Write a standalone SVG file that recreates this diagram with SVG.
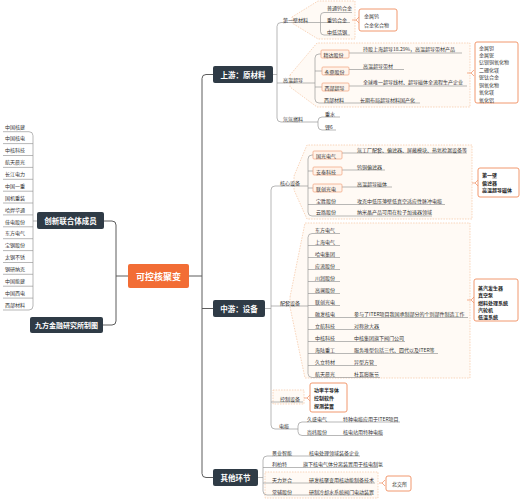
<svg xmlns="http://www.w3.org/2000/svg" width="520" height="500" viewBox="0 0 520 500">
<style>
.ln{fill:none;stroke:#9a9a9a;stroke-width:0.7}
.mln{fill:none;stroke:#5c5c5c;stroke-width:1}
.t{font-family:'Noto Sans CJK SC','Noto Sans',sans-serif;font-size:5px;fill:#333;dominant-baseline:central}
.sb{font-weight:bold;fill:#222}
.nt{font-family:'Noto Sans CJK SC','Noto Sans',sans-serif;font-size:7.5px;font-weight:bold;fill:#fff;text-anchor:middle;dominant-baseline:central}
.dk{fill:#2F3B46}
.bnd{fill:#FFFAF5;stroke:#F5C4A0;stroke-width:0.7;stroke-dasharray:1.5 1.2}
.sum{fill:#fff;stroke:#EF8D5F;stroke-width:0.9}
.ibox{fill:#FFF3EA;stroke:#F0A27C;stroke-width:0.7}
.br{fill:none;stroke:#EF8D5F;stroke-width:0.7}
</style>
<rect width="520" height="500" fill="#fff"/>
<g id="boundaries">
<polygon class="bnd" points="292,17 318,1 355,1 355,39 318,39 292,23"/>
<polygon class="bnd" points="290,75 317,43 470,43 470,107 317,107 290,87"/>
<polygon class="bnd" points="294,176 307,145 472,145 472,219 307,219 294,190"/>
<polygon class="bnd" points="290,297 305,223 470,223 470,378 305,378 290,307"/>
<rect class="bnd" x="273" y="390" width="31" height="14"/>
<rect class="bnd" x="265" y="472" width="113" height="26"/>
</g>
<g id="connectors">
<path class="ln" d="M3,131.7 H29 Q33,131.7 33,135.7 V306 Q33,310 29,310 H3 M3,143.6 H33 M3,155.5 H33 M3,167.4 H33 M3,179.3 H33 M3,191.2 H33 M3,203 H33 M3,214.9 H33 M3,226.8 H33 M3,238.7 H33 M3,250.6 H33 M3,262.5 H33 M3,274.3 H33 M3,286.2 H33 M3,298.1 H33 M33,221 H37"/>
<path class="mln" d="M104,221 H112 Q116,221 116,225 V321 Q116,325 112,325 H103 M116,276 H128"/>
<path class="mln" d="M189,276 H202 M213,74.5 H206 Q202,74.5 202,78.5 V473.5 Q202,477.5 206,477.5 H213 M202,308.5 H213"/>
<path class="ln" d="M273,74.5 H277 M320.5,22.5 H281 Q277,22.5 277,26.5 V118 Q277,122 281,122 H318 M277,83 H315"/>
<path class="ln" d="M352,12.5 H324 Q320.5,12.5 320.5,16 V31.5 Q320.5,35 324,35 H350 M320.5,22.5 H350"/>
<path class="ln" d="M321,54 H319 Q315,54 315,58 V99 Q315,103 319,103 H420 M315,71 H322 M315,87 H322 M349,53 H462 M349,69.5 H404 M349,86 H467"/>
<path class="ln" d="M340,117 H322 Q318,117 318,121 V126 Q318,130 322,130 H336"/>
<path class="ln" d="M265,308.5 H271 M308,186 H275 Q271,186 271,190 V425 Q271,429 275,429 H298 M271,306 H308 M271,402 H303"/>
<path class="ln" d="M313,155 H312 Q308,155 308,159 V212 Q308,216 312,216 H432 M308,171 H313 M308,188 H313 M308,204.5 H445 M342,153 H467 M342,170 H385 M342,187 H392"/>
<path class="ln" d="M340,233.5 H312 Q308,233.5 308,237.5 V373.5 Q308,377.5 312,377.5 H380 M308,245.5 H340 M308,257.5 H340 M308,269.5 H340 M308,281.5 H340 M308,293.5 H340 M308,305.5 H340 M308,317.5 H468 M308,329.5 H380 M308,341.5 H405 M308,353.5 H438 M308,365.5 H377"/>
<path class="ln" d="M400,422 H302 Q298,422 298,426 V431.5 Q298,435.5 302,435.5 H383"/>
<path class="ln" d="M258,477.5 H263 M360,456 H267 Q263,456 263,460 V491 Q263,495 267,495 H372 M263,467.5 H378 M263,483 H375"/>
<path class="br" d="M352,20 H356 M359,17 L356,20 L359,23"/>
<path class="br" d="M467,73 H471 M474,70 L471,73 L474,76"/>
<path class="br" d="M472,183 H475 M478,180 L475,183 L478,186"/>
<path class="br" d="M467,300 H471 M474,297 L471,300 L474,303"/>
<path class="br" d="M304,398 H307 M310,395 L307,398 L310,401"/>
<path class="br" d="M379,483 H382 M385,480 L382,483 L385,486"/>
</g>
<g id="members">
<text class="t" x="5" y="126">中国核建</text>
<text class="t" x="5" y="137.9">中国核电</text>
<text class="t" x="5" y="149.7">中核科技</text>
<text class="t" x="5" y="161.6">航天晨光</text>
<text class="t" x="5" y="173.5">长江电力</text>
<text class="t" x="5" y="185.4">中国一重</text>
<text class="t" x="5" y="197.2">国机重装</text>
<text class="t" x="5" y="209.1">哈焊华通</text>
<text class="t" x="5" y="221">佳电股份</text>
<text class="t" x="5" y="232.8">东方电气</text>
<text class="t" x="5" y="244.7">宝钢股份</text>
<text class="t" x="5" y="256.6">太钢不锈</text>
<text class="t" x="5" y="268.4">钢研纳克</text>
<text class="t" x="5" y="280.3">中国能建</text>
<text class="t" x="5" y="292.2">中国西电</text>
<text class="t" x="5" y="304">西部材料</text>
</g>
<g id="node-members"><rect class="dk" x="37" y="212" width="67" height="17" rx="2"/><text class="nt" x="70.5" y="220.5" font-size="7.3">创新联合体成员</text></g>
<g id="node-credit"><rect class="dk" x="30" y="317" width="73" height="16" rx="2"/><text class="nt" x="66.5" y="325" style="font-size:7px">九方金融研究所制图</text></g>
<g id="node-root"><rect x="128" y="264" width="61" height="24" rx="2" fill="#F26D35"/><text class="nt" x="158.5" y="276" style="font-size:9px">可控核聚变</text></g>
<g id="node-up"><rect class="dk" x="213" y="66" width="60" height="17" rx="2"/><text class="nt" x="243" y="74.5">上游：原材料</text></g>
<g id="node-mid"><rect class="dk" x="213" y="300" width="52" height="17" rx="2"/><text class="nt" x="239" y="308.5">中游：设备</text></g>
<g id="node-other"><rect class="dk" x="213" y="469" width="45" height="17" rx="2"/><text class="nt" x="235.5" y="477.5">其他环节</text></g>
<g id="upstream">
<text class="t" x="283" y="19">第一壁材料</text>
<text class="t" x="327" y="7.5">普通钨合金</text>
<text class="t" x="327" y="19">重钨合金</text>
<text class="t" x="327" y="31.5">中低活钢</text>
<rect class="sum" x="359" y="9" width="38" height="22" rx="2"/>
<text class="t" x="364" y="15.5">金属钨</text>
<text class="t" x="364" y="24">合金化合物</text>
<text class="t" x="283" y="79">高温超导</text>
<rect class="ibox" x="321" y="50" width="28" height="8" rx="1"/><text class="t" x="323.5" y="54">精达股份</text>
<rect class="ibox" x="322" y="67" width="27" height="8" rx="1"/><text class="t" x="324.5" y="71">永鼎股份</text>
<rect class="ibox" x="322" y="83" width="27" height="8" rx="1"/><text class="t" x="324.5" y="87">西部超导</text>
<text class="t" x="324" y="99">西部材料</text>
<text class="t" x="363" y="48.5">持股上海超导18.29%，高温超导带材产品</text>
<text class="t" x="363" y="65.5">高温超导带材</text>
<text class="t" x="363" y="81.7">全球唯一超导线材、超导磁体全流程生产企业</text>
<text class="t" x="360" y="99">长期布局超导材料国产化</text>
<rect class="sum" x="475" y="42" width="43" height="61" rx="2"/>
<text class="t" x="479" y="47">金属钽</text>
<text class="t" x="479" y="54.3">金属铌</text>
<text class="t" x="479" y="61.7">钇钡铜氧化物</text>
<text class="t" x="479" y="69">二硼化镁</text>
<text class="t" x="479" y="76.5">铌钛合金</text>
<text class="t" x="479" y="84">铜氧化物</text>
<text class="t" x="479" y="91.5">氧化镁</text>
<text class="t" x="479" y="99">氧化铝</text>
<text class="t" x="283" y="118">氘氚燃料</text>
<text class="t" x="325" y="113">重水</text>
<text class="t" x="325" y="126">锂6</text>
</g>
<g id="midstream">
<text class="t" x="280" y="182">核心设备</text>
<rect class="ibox" x="313" y="151" width="29" height="8" rx="1"/><text class="t" x="316" y="155">国光电气</text>
<rect class="ibox" x="313" y="167" width="29" height="8" rx="1"/><text class="t" x="316" y="171">安泰科技</text>
<rect class="ibox" x="313" y="184" width="29" height="8" rx="1"/><text class="t" x="316" y="188">联创光电</text>
<text class="t" x="316" y="200.5">宝胜股份</text>
<text class="t" x="316" y="211.7">云路股份</text>
<text class="t" x="357" y="149">氚工厂配套、偏滤器、屏蔽模块、热氦检漏设备等</text>
<text class="t" x="357" y="166">钨铜偏滤器</text>
<text class="t" x="357" y="183">高温超导磁体</text>
<text class="t" x="357" y="200.5">攻克中低压薄壁低真空适应性脉冲电缆</text>
<text class="t" x="357" y="211.7">纳米晶产品可用在粒子加速器领域</text>
<rect class="sum" x="478" y="168" width="41" height="29" rx="2"/>
<text class="t sb" x="482" y="174">第一壁</text>
<text class="t sb" x="482" y="182">偏滤器</text>
<text class="t sb" x="482" y="189.5">高温超导磁体</text>
<text class="t" x="280" y="302">配套设备</text>
<text class="t" x="315" y="229.5">东方电气</text>
<text class="t" x="315" y="241.5">上海电气</text>
<text class="t" x="315" y="253.5">哈电集团</text>
<text class="t" x="315" y="265.5">应流股份</text>
<text class="t" x="315" y="277.5">川润股份</text>
<text class="t" x="315" y="289.5">高澜股份</text>
<text class="t" x="315" y="301.5">联创光电</text>
<text class="t" x="315" y="313.5">融发核电</text>
<text class="t" x="315" y="325.5">立航科技</text>
<text class="t" x="315" y="337.5">中核科技</text>
<text class="t" x="315" y="349.5">海陆重工</text>
<text class="t" x="315" y="361.5">久立特材</text>
<text class="t" x="315" y="373.5">航天晨光</text>
<text class="t" x="354" y="313.5">参与了ITER项目我国承制部分的个别部件制造工作</text>
<text class="t" x="354" y="325.5">对称放大器</text>
<text class="t" x="354" y="337.5">中核集团旗下阀门公司</text>
<text class="t" x="354" y="349.5">服务堆型包括三代、四代以及ITER等</text>
<text class="t" x="354" y="361.5">异型方管</text>
<text class="t" x="354" y="373.5">杜瓦膨胀节</text>
<rect class="sum" x="474" y="279" width="44" height="42" rx="2"/>
<text class="t sb" x="478" y="287">蒸汽发生器</text>
<text class="t sb" x="478" y="294.5">真空泵</text>
<text class="t sb" x="478" y="302">燃料处理系统</text>
<text class="t sb" x="478" y="309.3">汽轮机</text>
<text class="t sb" x="478" y="316.5">低温系统</text>
<text class="t" x="280" y="398">控制设备</text>
<rect class="sum" x="310" y="383" width="37" height="29" rx="2"/>
<text class="t sb" x="314" y="389.5">功率半导体</text>
<text class="t sb" x="314" y="397.3">控制软件</text>
<text class="t sb" x="314" y="405">探测装置</text>
<text class="t" x="279" y="425">电缆</text>
<text class="t" x="307" y="418">久盛电气</text>
<text class="t" x="343" y="418">特种电缆应用于ITER项目</text>
<text class="t" x="307" y="431">尚纬股份</text>
<text class="t" x="343" y="431">核电站用特种电缆</text>
</g>
<g id="others">
<text class="t" x="272" y="452">景业智能</text>
<text class="t" x="309" y="452">核电处理领域装备企业</text>
<text class="t" x="272" y="463.5">利柏特</text>
<text class="t" x="303" y="463.5">旗下核电气体分离装置用于核电制氢</text>
<text class="t" x="272" y="479">天力复合</text>
<text class="t" x="309" y="479">研发核聚变用核动能制备技术</text>
<text class="t" x="272" y="491">常辅股份</text>
<text class="t" x="309" y="491">研制冷却水系统阀门电动装置</text>
<rect class="sum" x="386" y="476" width="25" height="15" rx="2"/>
<text class="t" x="392" y="483.5">北交所</text>
</g>
</svg>
